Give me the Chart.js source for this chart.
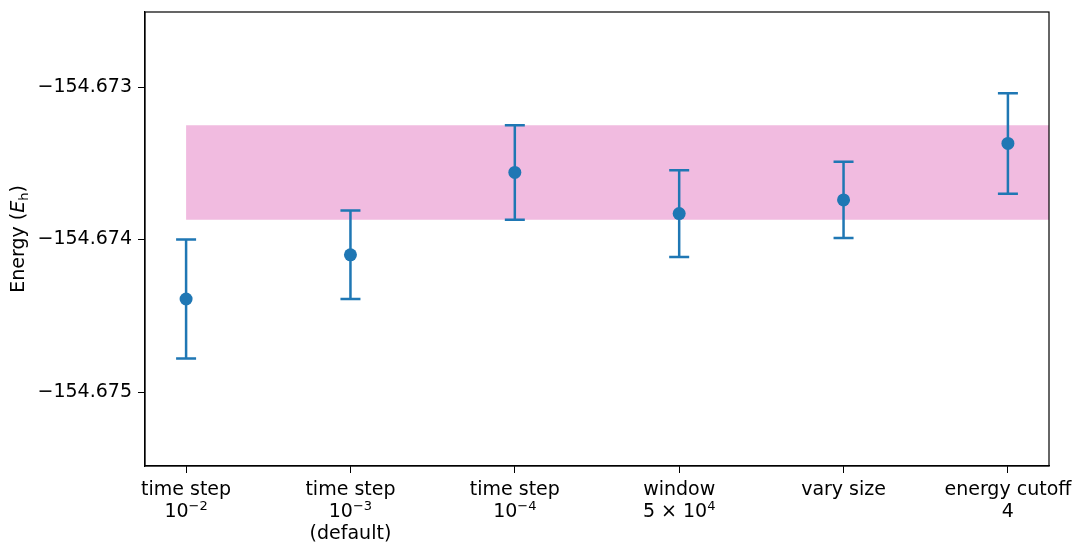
<!DOCTYPE html>
<html>
<head>
<meta charset="utf-8">
<script src="https://cdn.jsdelivr.net/npm/chart.js@4/dist/chart.umd.min.js"></script>
<style>
  html, body { margin: 0; padding: 0; background: #fff; }
  #wrap { width: 1075px; height: 542px; }
</style>
</head>
<body>
<div id="wrap"><canvas id="c" width="1075" height="542"></canvas></div>
<script>
// Run settings compared, one entry per category ("^" starts a superscript)
const categories = [
  ['time step', '10^\u22122'],
  ['time step', '10^\u22123', '(default)'],
  ['time step', '10^\u22124'],
  ['window', '5 \u00d7 10^4'],
  ['vary size'],
  ['energy cutoff', '4']
];
// Mean energy (Hartree) and its uncertainty for each setting
const energies = [-154.67439, -154.67410, -154.67356, -154.67383, -154.67374, -154.67337];
const errors   = [0.00039, 0.00029, 0.00031, 0.000285, 0.00025, 0.00033];
// Reference band: centre and half-width
const bandCenter = -154.67356;
const bandHalfWidth = 0.00031;
// Y-axis tick values
const yTicks = [-154.673, -154.674, -154.675];

const FONT = 'DejaVu Sans';
const FS = 19;
const BLUE = '#1f77b4';
const fmtMinus = v => v.toFixed(3).replace('-', '\u2212');

const points = energies.map((e, i) => ({ x: i, y: e }));

// Vertical error bars with caps, drawn right before the markers
const errorBars = {
  id: 'errorBars',
  beforeDatasetDraw(chart, args) {
    if (args.index !== 0) return;
    const { ctx, scales: { x, y } } = chart;
    ctx.save();
    ctx.strokeStyle = BLUE;
    ctx.lineWidth = 2.5;
    energies.forEach((e, i) => {
      const px = x.getPixelForValue(i);
      const top = y.getPixelForValue(e + errors[i]);
      const bot = y.getPixelForValue(e - errors[i]);
      ctx.beginPath();
      ctx.moveTo(px, top); ctx.lineTo(px, bot);
      ctx.moveTo(px - 10, top); ctx.lineTo(px + 10, top);
      ctx.moveTo(px - 10, bot); ctx.lineTo(px + 10, bot);
      ctx.stroke();
    });
    ctx.restore();
  }
};

// Box around the plotting area
const frame = {
  id: 'frame',
  afterDraw(chart) {
    const { ctx, chartArea: a } = chart;
    ctx.save();
    ctx.strokeStyle = '#000';
    ctx.lineWidth = 1.2;
    ctx.strokeRect(a.left, a.top, a.right - a.left, a.bottom - a.top);
    ctx.restore();
  }
};

// Category labels under the x ticks, with superscript exponents
const xLabels = {
  id: 'xLabels',
  afterDraw(chart) {
    const { ctx, chartArea: a, scales: { x } } = chart;
    const base = `${FS}px "${FONT}"`;
    const sup = `${Math.round(FS * 0.7)}px "${FONT}"`;
    ctx.save();
    ctx.fillStyle = '#000';
    ctx.textBaseline = 'alphabetic';
    categories.forEach((lines, i) => {
      const cx = x.getPixelForValue(i);
      lines.forEach((line, k) => {
        const parts = line.split('^');
        const segs = [{ t: parts[0], f: base, dy: 0 }];
        if (parts.length > 1) segs.push({ t: parts[1], f: sup, dy: -7.5 });
        let w = 0;
        segs.forEach(s => { ctx.font = s.f; s.w = ctx.measureText(s.t).width; w += s.w; });
        let px = cx - w / 2;
        const by = a.bottom + 29 + k * 22;
        segs.forEach(s => { ctx.font = s.f; ctx.fillText(s.t, px, by + s.dy); px += s.w; });
      });
    });
    ctx.restore();
  }
};

// Rotated y-axis title with italic E and subscript h
const yTitle = {
  id: 'yTitle',
  afterDraw(chart) {
    const { ctx, chartArea: a } = chart;
    const segs = [
      { t: 'Energy (', f: `${FS}px "${FONT}"`, dy: 0 },
      { t: 'E', f: `italic ${FS}px "${FONT}"`, dy: 0 },
      { t: 'h', f: `${Math.round(FS * 0.7)}px "${FONT}"`, dy: 4 },
      { t: ')', f: `${FS}px "${FONT}"`, dy: 0 }
    ];
    ctx.save();
    let w = 0;
    segs.forEach(s => { ctx.font = s.f; s.w = ctx.measureText(s.t).width; w += s.w; });
    ctx.translate(24, (a.top + a.bottom) / 2);
    ctx.rotate(-Math.PI / 2);
    ctx.fillStyle = '#000';
    ctx.textBaseline = 'alphabetic';
    let cx = -w / 2;
    segs.forEach(s => { ctx.font = s.f; ctx.fillText(s.t, cx, s.dy); cx += s.w; });
    ctx.restore();
  }
};

new Chart(document.getElementById('c'), {
  type: 'scatter',
  data: {
    datasets: [
      {
        data: points,
        backgroundColor: BLUE,
        borderWidth: 0,
        pointRadius: 6.5,
        pointHoverRadius: 6.5
      },
      {
        type: 'line',
        data: [{ x: 0, y: bandCenter + bandHalfWidth }, { x: 10, y: bandCenter + bandHalfWidth }],
        borderWidth: 0,
        borderColor: 'rgba(0,0,0,0)',
        pointRadius: 0,
        fill: { value: bandCenter - bandHalfWidth },
        backgroundColor: 'rgba(227,119,194,0.5)'
      }
    ]
  },
  options: {
    responsive: false,
    animation: false,
    devicePixelRatio: 1,
    layout: { padding: { left: 0, top: 12, right: 26, bottom: 0 } },
    plugins: { legend: { display: false }, tooltip: { enabled: false } },
    scales: {
      x: {
        type: 'linear',
        min: -0.25,
        max: 5.25,
        afterBuildTicks: s => { s.ticks = categories.map((_, i) => ({ value: i })); },
        afterFit: s => { s.height = 76; s.paddingLeft = 0; s.paddingRight = 0; },
        ticks: {
          callback: () => '',
          font: { family: FONT, size: FS },
          padding: 0,
          maxRotation: 0,
          autoSkip: false
        },
        grid: { display: true, drawOnChartArea: false, drawTicks: true, tickLength: 7, color: '#000' },
        border: { display: true, color: '#000', width: 1.2 }
      },
      y: {
        min: -154.675485,
        max: -154.672508,
        afterBuildTicks: s => { s.ticks = yTicks.map(v => ({ value: v })); },
        afterFit: s => { s.width = 145; s.paddingTop = 0; s.paddingBottom = 0; },
        ticks: {
          callback: v => fmtMinus(v),
          color: '#000',
          font: { family: FONT, size: FS },
          padding: 6
        },
        grid: { display: true, drawOnChartArea: false, drawTicks: true, tickLength: 7, color: '#000' },
        border: { display: true, color: '#000', width: 1.2 }
      }
    }
  },
  plugins: [errorBars, frame, xLabels, yTitle]
});
</script>
</body>
</html>
